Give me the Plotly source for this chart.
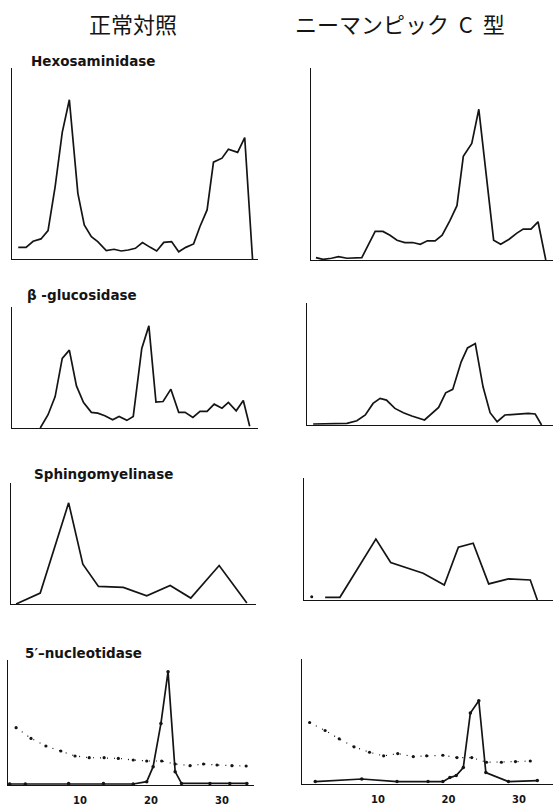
import plotly.graph_objects as go

# ---------------- data (x: fraction number, y: relative activity, % of axis height) ----------
col_titles = ["正常対照", "ニーマンピック  C  型"]
row_titles = ["Hexosaminidase", "β -glucosidase", "Sphingomyelinase", "5′–nucleotidase"]
tick_vals = [10, 20, 30]
tick_text = ["10", "20", "30"]

hexo_ctrl_x = [1.3, 2.4, 3.4, 4.5, 5.5, 6.5, 7.5, 8.5, 9.7, 10.6, 11.6, 12.5, 13.7, 14.8, 15.8, 16.8,
               17.8, 18.8, 19.9, 20.8, 21.8, 22.9, 23.9, 24.9, 26.0, 26.9, 27.9, 28.8, 30.0, 30.9,
               32.2, 33.2, 34.3]
hexo_ctrl_y = [6.1, 6.1, 9.3, 10.5, 14.9, 37.9, 66.3, 83.4, 34.4, 17.8, 11.7, 9.1, 4.4, 5.1, 4.2, 4.7,
               5.6, 8.6, 6.1, 4.2, 8.7, 9.1, 3.8, 6.1, 7.9, 17.0, 25.7, 50.7, 52.8, 57.5, 55.8, 63.6, 0]

hexo_npc_x = [1.2, 2.2, 3.4, 4.4, 5.6, 6.6, 7.7, 9.6, 10.7, 11.7, 12.7, 13.8, 14.9, 16.0, 17.0, 18.1,
              19.1, 20.2, 21.2, 22.1, 23.3, 24.3, 26.4, 27.4, 28.6, 29.7, 30.6, 31.7, 32.7, 33.8]
hexo_npc_y = [1.2, 0.3, 0.9, 1.7, 0.9, 1.2, 1.2, 14.9, 14.9, 12.9, 10.3, 9.1, 9.1, 8.2, 10.0, 10.0,
              12.9, 20.5, 28.3, 54.0, 60.7, 78.5, 10.3, 8.2, 10.8, 14.0, 16.1, 16.1, 19.9, 0]

gluc_ctrl_x = [4.4, 5.5, 6.5, 7.5, 8.5, 9.5, 10.5, 11.6, 12.5, 13.5, 14.6, 15.5, 16.6, 17.5, 18.7,
               19.7, 20.7, 21.7, 22.8, 23.9, 24.8, 25.9, 26.9, 27.9, 28.9, 30.0, 30.9, 32.0, 33.0, 33.9]
gluc_ctrl_y = [0, 11.0, 26.0, 57.5, 64.4, 34.8, 21.1, 12.9, 12.3, 10.1, 6.8, 9.6, 6.3, 9.6, 65.8,
               84.4, 21.4, 21.9, 32.1, 12.9, 12.9, 8.8, 13.7, 13.7, 19.7, 16.4, 21.1, 14.2, 22.7, 1.4]

gluc_npc_x = [0.8, 3.2, 5.6, 7.0, 8.2, 9.3, 10.3, 11.2, 12.4, 13.6, 14.8, 16.6, 17.6, 18.6, 19.6,
              20.6, 21.8, 22.7, 23.8, 24.9, 25.9, 26.9, 28.0, 29.2, 30.1, 31.3, 32.3, 33.2]
gluc_npc_y = [0.8, 1.4, 1.4, 3.5, 8.2, 17.7, 21.8, 20.4, 13.6, 10.1, 7.4, 4.1, 9.5, 14.4, 26.4,
              29.2, 51.8, 63.2, 66.8, 31.3, 10.1, 2.7, 8.2, 8.7, 9.0, 9.5, 9.0, 0]

sphingo_ctrl_x = [1.0, 4.4, 8.4, 10.4, 12.6, 16.1, 19.4, 22.7, 25.6, 29.6, 33.5]
sphingo_ctrl_y = [0, 9.0, 83.6, 32.9, 14.5, 13.7, 6.8, 15.3, 4.9, 31.8, 0.8]

sphingo_npc_x = [2.5, 4.6, 9.7, 11.8, 16.4, 19.4, 21.4, 23.5, 25.7, 28.5, 31.6, 32.6]
sphingo_npc_y = [2.2, 2.2, 49.9, 30.7, 21.9, 12.3, 43.3, 46.6, 13.2, 17.3, 16.4, 0]
sphingo_npc_first_x = [0.6]
sphingo_npc_first_y = [2.7]

nucl_ctrl_x = [0.1, 2.3, 8.4, 13.3, 17.5, 19.4, 20.3, 21.4, 22.4, 23.4, 24.3, 28.3, 31.1, 33.5]
nucl_ctrl_y = [0.8, 0.8, 1.3, 1.3, 0.8, 2.7, 14.7, 49.3, 90.7, 10.7, 1.3, 1.3, 1.3, 1.3]
nucl_ctrl_prot_x = [1.0, 3.1, 5.2, 7.3, 9.3, 11.3, 13.4, 15.4, 17.5, 19.4, 21.5, 23.4, 25.5, 27.4,
                    29.3, 31.4, 33.4]
nucl_ctrl_prot_y = [45.9, 37.3, 31.2, 27.2, 23.2, 21.9, 21.9, 21.3, 20.0, 19.2, 19.2, 16.8, 15.5,
                    16.8, 16.0, 15.5, 15.2]

nucl_npc_x = [1.1, 7.7, 12.7, 17.1, 19.2, 20.2, 21.1, 22.1, 23.1, 24.3, 25.3, 28.5, 32.6]
nucl_npc_y = [1.9, 4.0, 1.9, 1.9, 1.9, 5.1, 6.7, 13.1, 56.7, 66.6, 9.1, 1.9, 2.7]
nucl_npc_prot_x = [0.3, 2.5, 4.5, 6.6, 8.8, 10.8, 12.8, 15.0, 16.9, 19.2, 21.2, 23.3, 25.4, 27.5,
                   29.5, 31.6]
nucl_npc_prot_y = [49.2, 42.8, 36.1, 29.7, 25.4, 22.5, 24.3, 21.9, 22.5, 23.0, 21.1, 21.1, 17.4,
                   17.4, 17.9, 18.4]

# ---------------- layout geometry (pixels) ----------------
W, H = 553, 807
INK = "#141414"

# per panel: (axis left px, axis right px, top px, baseline px, px of fraction 0, px per fraction)
geom = {
    1: (12, 258, 68, 259, 9.0, 7.1),
    2: (311, 553, 68, 260, 307.5, 7.05),
    3: (12, 258, 307, 428, 9.0, 7.1),
    4: (307, 553, 303, 425, 307.5, 7.05),
    5: (11, 256, 483, 604, 9.0, 7.1),
    6: (304, 553, 478, 600, 307.5, 7.05),
    7: (8, 254, 660, 785, 9.0, 7.1),
    8: (302, 553, 659, 784, 307.5, 7.05),
}

fig = go.Figure()


def add_line(n, xs, ys, mode="lines", dash="solid", width=1.7, msize=0):
    sfx = "" if n == 1 else str(n)
    kw = dict(x=xs, y=ys, mode=mode, xaxis="x" + sfx, yaxis="y" + sfx,
              line=dict(color=INK, width=width, dash=dash), showlegend=False,
              hoverinfo="x+y")
    if "markers" in mode:
        kw["marker"] = dict(color=INK, size=msize)
    fig.add_trace(go.Scatter(**kw))


add_line(1, hexo_ctrl_x, hexo_ctrl_y)
add_line(2, hexo_npc_x, hexo_npc_y)
add_line(3, gluc_ctrl_x, gluc_ctrl_y)
add_line(4, gluc_npc_x, gluc_npc_y)
add_line(5, sphingo_ctrl_x, sphingo_ctrl_y)
add_line(6, sphingo_npc_x, sphingo_npc_y)
add_line(6, sphingo_npc_first_x, sphingo_npc_first_y, mode="markers", msize=3)
add_line(7, nucl_ctrl_prot_x, nucl_ctrl_prot_y, mode="lines+markers", dash="1px,6px", width=1.2, msize=3.2)
add_line(7, nucl_ctrl_x, nucl_ctrl_y, mode="lines+markers", msize=3.5)
add_line(8, nucl_npc_prot_x, nucl_npc_prot_y, mode="lines+markers", dash="1px,6px", width=1.2, msize=3.2)
add_line(8, nucl_npc_x, nucl_npc_y, mode="lines+markers", msize=3.5)

layout = dict(
    width=W, height=H, margin=dict(l=0, r=0, t=0, b=0),
    paper_bgcolor="white", plot_bgcolor="white", showlegend=False,
)

for n, (x0, x1, top, base, org, k) in geom.items():
    sfx = "" if n == 1 else str(n)
    bottom_row = n in (7, 8)
    layout["xaxis" + sfx] = dict(
        domain=[x0 / W, x1 / W], range=[(x0 - org) / k, (x1 - org) / k],
        anchor="y" + sfx, showgrid=False, zeroline=False, showline=True,
        linecolor=INK, linewidth=1.2, ticks="",
        tickmode="array", tickvals=tick_vals, ticktext=tick_text,
        showticklabels=bottom_row, ticklabelstandoff=6,
        tickfont=dict(family="DejaVu Sans", size=10, color=INK, weight="bold"),
        fixedrange=True,
    )
    layout["yaxis" + sfx] = dict(
        domain=[1 - base / H, 1 - top / H], range=[0, 100],
        anchor="x" + sfx, showgrid=False, zeroline=False, showline=True,
        linecolor=INK, linewidth=1.2, ticks="", showticklabels=False, fixedrange=True,
    )

fig.update_layout(**layout)

ann = []
col_pos = [(133, 23), (400, 23)]
for t, (cx, cy) in zip(col_titles, col_pos):
    ann.append(dict(text=t, x=cx / W, y=1 - cy / H, xref="paper", yref="paper",
                    xanchor="center", yanchor="middle", showarrow=False,
                    font=dict(family="Noto Sans CJK JP", size=22, color=INK)))
row_pos = [(29, 61), (25, 295), (32, 474), (23, 653)]
for t, (lx, ly) in zip(row_titles, row_pos):
    ann.append(dict(text=t, x=lx / W, y=1 - ly / H, xref="paper", yref="paper",
                    xanchor="left", yanchor="middle", showarrow=False,
                    font=dict(family="DejaVu Sans", size=13.5, color=INK, weight="bold")))
fig.update_layout(annotations=ann)

fig.write_html(
    "out.html",
    config={"displayModeBar": False},
    post_script="document.body.style.margin='0';document.body.style.overflow='hidden';",
)
